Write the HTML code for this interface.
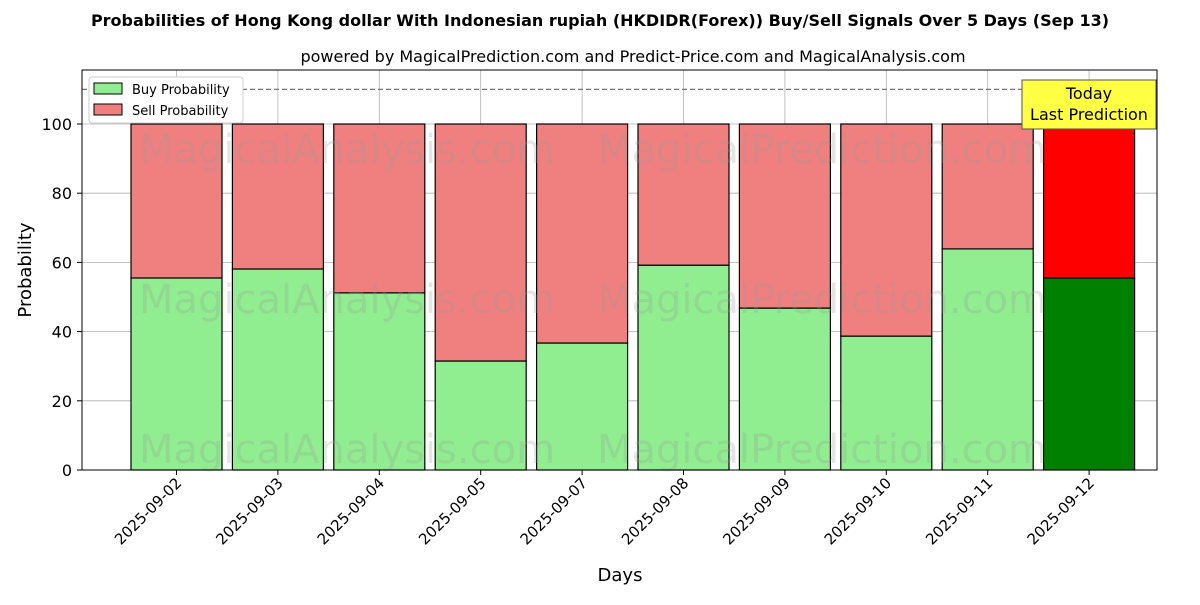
<!DOCTYPE html>
<html><head><meta charset="utf-8"><style>
body{margin:0;background:#fff;}
svg text{font-family:"DejaVu Sans","Liberation Sans",sans-serif;}
</style></head><body>
<svg id="chart" width="1200" height="600" xmlns="http://www.w3.org/2000/svg">
<rect width="1200" height="600" fill="#fff"/>
<text x="600" y="26" text-anchor="middle" font-size="16" font-weight="bold">Probabilities of Hong Kong dollar With Indonesian rupiah (HKDIDR(Forex)) Buy/Sell Signals Over 5 Days (Sep 13)</text>
<text x="633" y="62" text-anchor="middle" font-size="16">powered by MagicalPrediction.com and Predict-Price.com and MagicalAnalysis.com</text>
<g id="grid"></g>
<g id="bars"></g>
<g id="wm" font-size="40" fill="#999" opacity="0.25">
<text x="347" y="163" text-anchor="middle">MagicalAnalysis.com</text>
<text x="822" y="163" text-anchor="middle">MagicalPrediction.com</text>
<text x="347" y="313" text-anchor="middle">MagicalAnalysis.com</text>
<text x="822" y="313" text-anchor="middle">MagicalPrediction.com</text>
<text x="347" y="463" text-anchor="middle">MagicalAnalysis.com</text>
<text x="822" y="463" text-anchor="middle">MagicalPrediction.com</text>
</g>
<line x1="82" x2="1157" y1="89.4" y2="89.4" stroke="#777" stroke-dasharray="5,3" stroke-width="1.2"/>
<rect x="82" y="70" width="1075" height="400" fill="none" stroke="#000" stroke-width="1"/>
<g id="axes"></g>
<text x="620" y="581" text-anchor="middle" font-size="18">Days</text>
<text transform="translate(31,270) rotate(-90)" text-anchor="middle" font-size="18">Probability</text>
<g>
<rect x="89" y="77" width="154" height="46" fill="#fff" stroke="#ccc" rx="3"/>
<rect x="94" y="83" width="28" height="11" fill="#90ee90" stroke="#000"/>
<text x="132" y="94" font-size="13">Buy Probability</text>
<rect x="94" y="104" width="28" height="11" fill="#f08080" stroke="#000"/>
<text x="132" y="115" font-size="13">Sell Probability</text>
</g>
<g>
<rect x="1022" y="80" width="134" height="49" fill="#ffff44" stroke="#555"/>
<text x="1089" y="99" text-anchor="middle" font-size="16">Today</text>
<text x="1089" y="120" text-anchor="middle" font-size="16">Last Prediction</text>
</g>
</svg>
<script>
const categories=["2025-09-02","2025-09-03","2025-09-04","2025-09-05","2025-09-07","2025-09-08","2025-09-09","2025-09-10","2025-09-11","2025-09-12"];
const buyValues=[55.5,58.1,51.2,31.5,36.7,59.2,46.8,38.7,63.9,55.5];
const yTicks=[0,20,40,60,80,100];
const NS="http://www.w3.org/2000/svg";
const y=v=>470-v*3.46;
const x=i=>176.5+i*101.4;
const bw=91;
function mk(tag,attrs,parent){const e=document.createElementNS(NS,tag);for(const k in attrs)e.setAttribute(k,attrs[k]);parent.appendChild(e);return e;}
const grid=document.getElementById('grid'),bars=document.getElementById('bars'),axes=document.getElementById('axes');
yTicks.forEach(t=>{
 const g=mk('line',{x1:82,x2:1157,y1:y(t),y2:y(t),stroke:'#b0b0b0','stroke-width':0.8},grid);
 
 
 const tk=mk('line',{x1:77,x2:82,y1:y(t),y2:y(t),stroke:'#000'},axes);
 
 
 const lb=mk('text',{x:72,y:y(t)+6,'text-anchor':'end','font-size':16},axes);
 lb.textContent=t;
 
 
});
categories.forEach((c,i)=>{
 const gl=mk('line',{x1:x(i),x2:x(i),y1:70,y2:470,stroke:'#b0b0b0','stroke-width':0.8},grid);
 
 
 const last=i===categories.length-1;
 const b=buyValues[i];
 const br=mk('rect',{x:x(i)-bw/2,y:y(b),width:bw,height:y(0)-y(b),fill:last?'#008000':'#90ee90',stroke:'#000','stroke-width':1.2},bars);
 
 
 const sr=mk('rect',{x:x(i)-bw/2,y:y(100),width:bw,height:y(b)-y(100),fill:last?'#ff0000':'#f08080',stroke:'#000','stroke-width':1.2},bars);
 
 
 const tk=mk('line',{x1:x(i),x2:x(i),y1:470,y2:475,stroke:'#000'},axes);
 
 
 const lb=mk('text',{transform:`translate(${x(i)+6},484) rotate(-45)`,'text-anchor':'end','font-size':15},axes);
 lb.textContent=c;
 
 
});
</script>
</body></html>
